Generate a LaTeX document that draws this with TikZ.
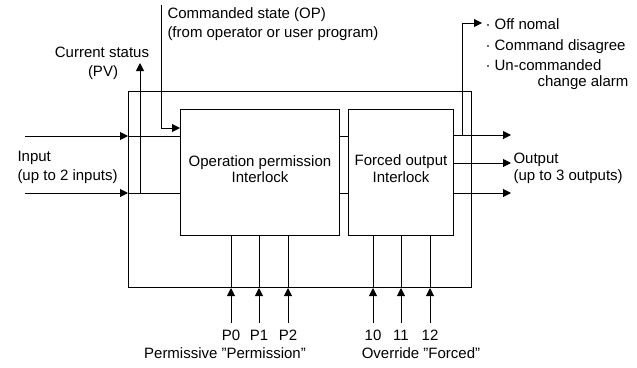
\documentclass[tikz,border=0pt]{standalone}
\usepackage{fontspec}
\setmainfont{Liberation Sans}
\usetikzlibrary{arrows.meta}
\begin{document}
\begin{tikzpicture}[x=1pt,y=-1pt,
  line width=1pt,
  arr/.style={-{Triangle[length=8pt,width=8pt]}},
  box/.style={draw, line width=1pt, inner sep=0pt, anchor=north west},
  lbl/.style={inner sep=0pt, font=\fontsize{15}{19}\selectfont, text height=10.7pt, text depth=0pt},
]
\useasboundingbox (0,0) rectangle (637,367);
% boxes
\node[box, minimum width=343pt, minimum height=196pt] (outer) at (128,91) {};
\node[box, minimum width=159pt, minimum height=126pt] (op) at (180,109) {};
\node[box, minimum width=105pt, minimum height=126pt] (fo) at (348,109) {};
\node[lbl] (opT1) at (260,161) {Operation permission};
\node[lbl] (opT2) at (260,177) {Interlock};
\node[lbl] (foT1) at (401,160) {Forced output};
\node[lbl] (foT2) at (401,177) {Interlock};
% inputs
\coordinate (in1) at (25,136);
\coordinate (in2) at (25,193);
\draw[arr] (in1) -- (in1 -| outer.west);
\draw (in1 -| outer.west) -- (in1 -| op.west);
\draw[arr] (in2) -- (in2 -| outer.west);
\draw (in2 -| outer.west) -- (in2 -| op.west);
\node[lbl, anchor=west] (inT1) at (17,156) {Input};
\node[lbl, anchor=west] (inT2) at (17,175) {(up to 2 inputs)};
% current status
\coordinate (pvBase) at (140,193);
\coordinate (pvTip) at (140,63);
\draw[arr] (pvBase) -- (pvTip);
\node[lbl] (pvT1) at (102,52) {Current status};
\node[lbl] (pvT2) at (103,71) {(PV)};
% commanded state
\coordinate (cmdTop) at (161,5);
\coordinate (cmdEnd) at (180,128);
\draw[arr] (cmdTop) |- (cmdEnd);
\node[lbl, anchor=west] (cmdT1) at (167,13) {Commanded state (OP)};
\node[lbl, anchor=west] (cmdT2) at (167,32) {(from operator or user program)};
% between boxes
\draw (op.east |- in1) -- (fo.west |- in1);
\draw (op.east |- in2) -- (fo.west |- in2);
% outputs
\coordinate (out1) at (511,135);
\coordinate (out2) at (511,163);
\coordinate (out3) at (511,193);
\draw[arr] (fo.east |- out1) -- (out1);
\draw[arr] (fo.east |- out2) -- (out2);
\draw[arr] (fo.east |- out3) -- (out3);
\node[lbl, anchor=west] (outT1) at (513,158) {Output};
\node[lbl, anchor=west] (outT2) at (513,175) {(up to 3 outputs)};
% alarms
\coordinate (offBase) at (462,135);
\coordinate (offTip) at (482,23);
\draw[arr] (offBase) |- (offTip);
\node[lbl, anchor=west] (al1) at (485,24) {· Off nomal};
\node[lbl, anchor=west] (al2) at (485,45) {· Command disagree};
\node[lbl, anchor=west] (al3) at (485,65) {· Un-commanded};
\node[lbl, anchor=west] (al4) at (537,81) {change alarm};
% bottom inputs
\foreach \x/\n/\t in {231/pa/P0, 259/pb/P1, 288/pc/P2, 373/fa/10, 401/fb/11, 430/fc/12}{
  \coordinate (\n) at (\x,323);
  \draw[arr] (\n) -- (\n |- outer.south);
  \draw (\n |- outer.south) -- (\n |- op.south);
  \node[lbl] (\n T) at (\x,335) {\t};
}
\node[lbl] (permT) at (225,353) {Permissive "Permission"};
\node[lbl] (ovrT) at (421,353) {Override "Forced"};
\end{tikzpicture}
\end{document}
